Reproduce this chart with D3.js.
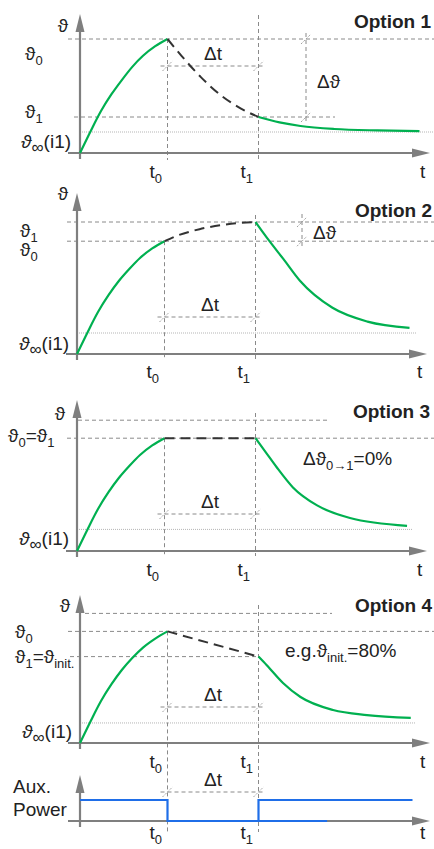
<!DOCTYPE html>
<html>
<head>
<meta charset="utf-8">
<script src="https://cdn.jsdelivr.net/npm/d3@7"></script>
<style>
  html, body { margin: 0; padding: 0; background: #fff; }
  text { font-family: "Liberation Sans", Arial, sans-serif; fill: #222; }
</style>
</head>
<body>
<div id="chart"></div>
<script>
const width = 434;
const height = 849;

// time marks (t0, t1), same in every panel
const tMarks = [25, 51];

// Option 1
const p1Rise = [[0,0],[3,18],[6,35],[9,49],[12,61],[15,72],[18,81],[21.5,89],[25,95]];
const p1Gap  = [[25,95],[29,81],[34.6,63],[40.3,48],[46,37],[51,30]];
const p1Tail = [[51,30],[57,25.5],[63,22.5],[72.6,20],[85,18.8],[97,18.3]];
const p1Levels = [95, 30, 17.5];          // theta0, theta1, theta_inf

// Option 2
const p2Rise = [[0,0],[3,18],[6,35],[9,49],[12,61],[15,71],[18,80],[21.5,88],[25,94]];
const p2Gap  = [[25,94],[29,99],[35,104],[44,108.5],[51,110]];
const p2Tail = [[51,110],[55,94],[59,79],[63.7,61],[73,38.5],[83,27],[95,21.7]];
const p2Levels = [110, 94, 17.5];         // theta1, theta0, theta_inf

// Option 3
const p3Rise = [[0,0],[3,18],[6,35],[9,49],[12,61],[15,71],[18,80],[21.5,88],[25,94]];
const p3Gap  = [[25,94],[51,94]];
const p3Tail = [[51,94],[54,82],[57,70],[61.7,53],[68.6,38],[78,27.5],[94.3,21]];
const p3Levels = [109, 94, 18];           // top, theta0=theta1, theta_inf

// Option 4
const p4Rise = [[0,0],[3,18],[6,35],[9,49],[12,61],[15,71],[18,79.5],[21.5,87],[25,93]];
const p4Gap  = [[25,93],[51,72]];
const p4Tail = [[51,72],[53.3,65],[58,50],[63,38.3],[72.3,27.5],[82,23.3],[94.5,21]];
const p4Levels = [108, 93, 72, 16.7];     // top, theta0, theta1, theta_inf

// Aux power (1 = on, 0 = off)
const auxA = [[0,1],[25,1],[25,0],[70.6,0]];
const auxB = [[51,0],[51,1],[95,1]];

const green = "#00b050";
const blue = "#1f6ee8";
const axisGrey = "#7f7f7f";
const guideGrey = "#8a8a8a";

const svg = d3.select("#chart").append("svg")
  .attr("width", width)
  .attr("height", height);

function makeScales(ox, oy) {
  return {
    x: d3.scaleLinear().domain([0, 100]).range([ox, ox + 350]),
    y: d3.scaleLinear().domain([0, 100]).range([oy, oy - 120])
  };
}

const line = (x, y, curve) => d3.line()
  .x(d => x(d[0]))
  .y(d => y(d[1]))
  .curve(curve || d3.curveMonotoneX);

function drawAxes(x, y0, yTop, xLeft) {
  const ox = x(0), tip = x(100);
  svg.append("line").attr("x1", xLeft).attr("x2", tip - 12).attr("y1", y0).attr("y2", y0)
    .attr("stroke", axisGrey).attr("stroke-width", 2.2);
  svg.append("path")
    .attr("d", `M${tip},${y0} L${tip - 18},${y0 - 4.5} L${tip - 18},${y0 + 4.5} Z`)
    .attr("fill", axisGrey);
  svg.append("line").attr("x1", ox).attr("x2", ox).attr("y1", y0 + 6).attr("y2", yTop + 12)
    .attr("stroke", axisGrey).attr("stroke-width", 2.2);
  svg.append("path")
    .attr("d", `M${ox},${yTop} L${ox - 4.5},${yTop + 18} L${ox + 4.5},${yTop + 18} Z`)
    .attr("fill", axisGrey);
}

function hGuide(x1, x2, yy, dotted) {
  svg.append("line").attr("x1", x1).attr("x2", x2).attr("y1", yy).attr("y2", yy)
    .attr("stroke", dotted ? "#b5b5b5" : guideGrey)
    .attr("stroke-width", 1)
    .attr("stroke-dasharray", dotted ? "1,1" : "4,3");
}

function vGuide(xx, y1, y2) {
  svg.append("line").attr("x1", xx).attr("x2", xx).attr("y1", y1).attr("y2", y2)
    .attr("stroke", guideGrey).attr("stroke-width", 1).attr("stroke-dasharray", "4,3");
}

function tick(cx, cy) {
  svg.append("line").attr("x1", cx - 5).attr("y1", cy + 5).attr("x2", cx + 5).attr("y2", cy - 5)
    .attr("stroke", "#a0a0a0").attr("stroke-width", 1).attr("stroke-dasharray", "2,1.5");
}

function curve(data, x, y, color, dashed, c) {
  svg.append("path")
    .attr("d", line(x, y, c)(data))
    .attr("fill", "none")
    .attr("stroke", color)
    .attr("stroke-width", dashed ? 2 : 2.2)
    .attr("stroke-dasharray", dashed ? "10,6" : null);
}

// parts: {t, sub, it, size}
function label(x, y, parts, anchor, opts) {
  opts = opts || {};
  const size = opts.size || 19;
  const t = svg.append("text")
    .attr("x", x).attr("y", y)
    .attr("font-size", size)
    .attr("text-anchor", anchor || "start")
    .attr("font-weight", opts.bold ? "bold" : null);
  let shift = 0;
  parts.forEach(p => {
    const target = p.sub ? 5 : 0;
    const ts = t.append("tspan")
      .attr("dy", target - shift)
      .attr("font-size", p.size || (p.sub ? 13 : size))
      .text(p.t);
    if (p.it) ts.attr("font-style", "italic");
    shift = target;
  });
}

const th = (s) => [{t: "ϑ"}, {t: s, sub: true}];
const thInf = [{t: "ϑ", it: true}, {t: "∞", sub: true, size: 17}, {t: "(i1)"}];

function tLabels(x, yy) {
  label(x(tMarks[0]) - 18, yy, [{t: "t"}, {t: "0", sub: true}]);
  label(x(tMarks[1]) - 18, yy, [{t: "t"}, {t: "1", sub: true}]);
  label(x(100) - 10, yy, [{t: "t"}]);
}

function deltaT(x, yy) {
  const a = x(tMarks[0]), b = x(tMarks[1]);
  hGuide(a - 7, b + 5, yy);
  tick(a, yy); tick(b, yy);
  label((a + b) / 2, yy - 6, [{t: "Δt"}], "middle");
}

// ---------- Option 1 ----------
{
  const {x, y} = makeScales(80, 153);
  const [a, b] = tMarks.map(x);
  hGuide(68, 434, y(p1Levels[0]));
  hGuide(74, 335, y(p1Levels[1]));
  hGuide(80, 433, y(p1Levels[2]), true);
  vGuide(a, y(p1Levels[0]), 160);
  vGuide(b, 15, 160);
  deltaT(x, 66);
  vGuide(306, 33, 122);
  tick(306, y(p1Levels[0])); tick(306, y(p1Levels[1]));
  drawAxes(x, 153, 14, 68);
  curve(p1Rise, x, y, green);
  curve(p1Gap, x, y, "#333", true);
  curve(p1Tail, x, y, green);
  label(63, 32, [{t: "ϑ"}], "middle");
  label(25, 60, th("0"));
  label(25, 118, th("1"));
  label(21, 148, thInf);
  label(317, 88, [{t: "Δϑ"}]);
  tLabels(x, 178);
  label(431, 28, [{t: "Option 1"}], "end", {bold: true});
}

// ---------- Option 2 ----------
{
  const {x, y} = makeScales(77, 354);
  const [a, b] = tMarks.map(x);
  hGuide(67, 434, y(p2Levels[0]));
  hGuide(67, 434, y(p2Levels[1]));
  hGuide(77, 417, y(p2Levels[2]), true);
  vGuide(a, y(p2Levels[1]), 359);
  vGuide(b, 215, 359);
  deltaT(x, 317);
  vGuide(302, 214, 248);
  tick(302, y(p2Levels[0])); tick(302, y(p2Levels[1]));
  drawAxes(x, 354, 193, 66);
  curve(p2Rise, x, y, green);
  curve(p2Gap, x, y, "#333", true);
  curve(p2Tail, x, y, green);
  label(63, 200, [{t: "ϑ"}], "middle");
  label(20, 237, th("1"));
  label(20, 256, th("0"));
  label(19, 350, thInf);
  label(313, 239, [{t: "Δϑ"}]);
  tLabels(x, 378);
  label(432, 217, [{t: "Option 2"}], "end", {bold: true});
}

// ---------- Option 3 ----------
{
  const {x, y} = makeScales(77, 551);
  const [a, b] = tMarks.map(x);
  hGuide(78, 328, y(p3Levels[0]));
  hGuide(67, 434, y(p3Levels[1]));
  hGuide(77, 413, y(p3Levels[2]), true);
  vGuide(a, y(p3Levels[1]), 556);
  vGuide(b, 413, 556);
  deltaT(x, 514);
  drawAxes(x, 551, 400, 66);
  curve(p3Rise, x, y, green);
  curve(p3Gap, x, y, "#333", true, d3.curveLinear);
  curve(p3Tail, x, y, green);
  label(60, 420, [{t: "ϑ"}], "middle");
  label(8, 442, [{t: "ϑ"}, {t: "0", sub: true}, {t: "=ϑ"}, {t: "1", sub: true}]);
  label(19, 545, thInf);
  label(303, 465, [{t: "Δϑ"}, {t: "0→1", sub: true}, {t: "=0%"}]);
  tLabels(x, 576);
  label(430, 418, [{t: "Option 3"}], "end", {bold: true});
}

// ---------- Option 4 ----------
{
  const {x, y} = makeScales(80, 743);
  const [a, b] = tMarks.map(x);
  hGuide(85, 332, y(p4Levels[0]));
  hGuide(68, 434, y(p4Levels[1]));
  hGuide(70, b, y(p4Levels[2]));
  hGuide(80, 415, y(p4Levels[3]), true);
  vGuide(a, y(p4Levels[1]), 832);
  vGuide(b, 605, 832);
  deltaT(x, 707);
  drawAxes(x, 743, 595, 68);
  curve(p4Rise, x, y, green);
  curve(p4Gap, x, y, "#333", true, d3.curveLinear);
  curve(p4Tail, x, y, green);
  label(65, 612, [{t: "ϑ"}], "middle");
  label(15, 638, th("0"));
  label(15, 663, [{t: "ϑ"}, {t: "1", sub: true}, {t: "=ϑ"}, {t: "init.", sub: true}]);
  label(22, 738, thInf);
  label(285, 657, [{t: "e.g.ϑ"}, {t: "init.", sub: true}, {t: "=80%"}]);
  tLabels(x, 768);
  label(432, 612, [{t: "Option 4"}], "end", {bold: true});
}

// ---------- Aux. Power ----------
{
  const x = d3.scaleLinear().domain([0, 100]).range([80, 430]);
  const y = d3.scaleLinear().domain([0, 1]).range([821, 800]);
  deltaT(x, 792);
  drawAxes(x, 821, 775, 68);
  curve(auxA, x, y, blue, false, d3.curveLinear);
  curve(auxB, x, y, blue, false, d3.curveLinear);
  label(13, 793, [{t: "Aux."}]);
  label(13, 816, [{t: "Power"}]);
  tLabels(x, 839);
}
</script>
</body>
</html>
